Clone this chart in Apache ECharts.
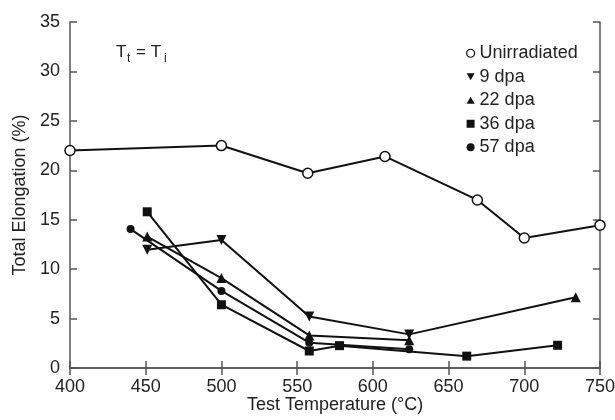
<!doctype html>
<html lang="en">
<head>
<meta charset="UTF-8">
<title>Total Elongation vs Test Temperature</title>
<style>
  html, body { margin: 0; padding: 0; background: #fff; }
  #main { width: 615px; height: 420px; }
</style>
</head>
<body>
<div id="main"></div>
<script src="https://cdn.jsdelivr.net/npm/echarts@6/dist/echarts.min.js"></script>
<script>
// data
var unirrTemp = [400, 500, 557, 608, 669, 700, 750];
var unirrElong = [22.0, 22.5, 19.7, 21.4, 17.0, 13.15, 14.45];

var dpa9Temp = [451, 500, 558, 624, 734];
var dpa9Elong = [11.95, 12.95, 5.2, 3.4, 7.15];

var dpa22Temp = [451, 500, 558, 624];
var dpa22Elong = [13.3, 9.1, 3.3, 2.8];

var dpa36Temp = [451, 500, 558, 578, 662, 722];
var dpa36Elong = [15.8, 6.4, 1.72, 2.26, 1.2, 2.3];

var dpa57Temp = [440, 500, 558, 624];
var dpa57Elong = [14.05, 7.8, 2.56, 1.9];

var seriesNames = ['Unirradiated', '9 dpa', '22 dpa', '36 dpa', '57 dpa'];
var xTicks = [400, 750, 50];
var yTicks = [0, 35, 5];

var downTri = 'path://M0,0 L10,0 L5,9 Z';
var upTri = 'path://M5,0 L10,9 L0,9 Z';

function pairs(t, v) {
    var out = [];
    for (var i = 0; i < t.length; i++) out.push([t[i], v[i]]);
    return out;
}

var myChart = echarts.init(document.getElementById('main'));

var axisColor = '#555';
var font = 'Liberation Sans, Arial, sans-serif';
var tickStyle = { color: '#222', fontSize: 18, fontFamily: font };
var nameStyle = { color: '#222', fontSize: 18, fontFamily: font };

// 9 dpa last point is drawn as an up triangle in the figure
var dpa9Data = pairs(dpa9Temp, dpa9Elong);
dpa9Data[dpa9Data.length - 1] = { value: dpa9Data[dpa9Data.length - 1], symbol: upTri };

function lineSeries(name, data, symbol, size, fill) {
    return {
        name: name,
        type: 'line',
        xAxisIndex: 0,
        yAxisIndex: 0,
        data: data,
        symbol: symbol,
        symbolSize: size,
        showAllSymbol: true,
        lineStyle: { color: '#111', width: 2 },
        itemStyle: { color: fill || '#111', borderColor: '#111', borderWidth: fill ? 1.5 : 0, opacity: 1 },
        emphasis: { disabled: true },
        z: 3
    };
}

var option = {
    animation: false,
    backgroundColor: '#fff',
    grid: { left: 70, right: 15, top: 22, bottom: 52, containLabel: false, outerBoundsMode: 'none' },
    legend: {
        orient: 'vertical',
        left: 461,
        top: 39,
        itemWidth: 8,
        itemHeight: 8,
        itemGap: 5,
        selectedMode: false,
        textStyle: { color: '#222', fontSize: 18, lineHeight: 18.5, fontFamily: font },
        data: [
            { name: seriesNames[0], icon: 'circle', itemStyle: { color: '#fff', borderColor: '#111', borderWidth: 1.2 } },
            { name: seriesNames[1], icon: downTri, itemStyle: { color: '#111' } },
            { name: seriesNames[2], icon: upTri, itemStyle: { color: '#111' } },
            { name: seriesNames[3], icon: 'rect', itemStyle: { color: '#111' } },
            { name: seriesNames[4], icon: 'circle', itemStyle: { color: '#111' } }
        ]
    },
    xAxis: [{
        type: 'value',
        min: xTicks[0], max: xTicks[1], interval: xTicks[2],
        name: 'Test Temperature (°C)',
        nameLocation: 'middle',
        nameGap: 28,
        nameMoveOverlap: false,
        nameTextStyle: nameStyle,
        axisLine: { show: true, lineStyle: { color: axisColor, width: 1.5 } },
        axisTick: { show: true, inside: true, length: 7, lineStyle: { color: axisColor, width: 1.5 } },
        axisLabel: Object.assign({ margin: 10 }, tickStyle),
        splitLine: { show: false }
    }, {
        type: 'value',
        position: 'top',
        min: xTicks[0], max: xTicks[1], interval: xTicks[2],
        axisLine: { show: true, lineStyle: { color: axisColor, width: 1.5 } },
        axisTick: { show: true, inside: true, length: 7, lineStyle: { color: axisColor, width: 1.5 } },
        axisLabel: { show: false },
        splitLine: { show: false }
    }],
    yAxis: [{
        type: 'value',
        min: yTicks[0], max: yTicks[1], interval: yTicks[2],
        name: 'Total Elongation (%)',
        nameLocation: 'middle',
        nameGap: 41,
        nameMoveOverlap: false,
        nameTextStyle: nameStyle,
        axisLine: { show: true, lineStyle: { color: axisColor, width: 1.5 } },
        axisTick: { show: true, inside: true, length: 7, lineStyle: { color: axisColor, width: 1.5 } },
        axisLabel: Object.assign({ margin: 10 }, tickStyle),
        splitLine: { show: false }
    }, {
        type: 'value',
        position: 'right',
        min: yTicks[0], max: yTicks[1], interval: yTicks[2],
        axisLine: { show: true, lineStyle: { color: axisColor, width: 1.5 } },
        axisTick: { show: true, inside: true, length: 7, lineStyle: { color: axisColor, width: 1.5 } },
        axisLabel: { show: false },
        splitLine: { show: false }
    }],
    graphic: [
        { type: 'text', left: 116, top: 44, style: { text: 'T', fontSize: 17, fill: '#222', fontFamily: font } },
        { type: 'text', left: 127, top: 53, style: { text: 't', fontSize: 12, fill: '#222', fontFamily: font } },
        { type: 'text', left: 136, top: 44, style: { text: '= T', fontSize: 17, fill: '#222', fontFamily: font } },
        { type: 'text', left: 164, top: 53, style: { text: 'i', fontSize: 12, fill: '#222', fontFamily: font } }
    ],
    series: [
        lineSeries(seriesNames[0], pairs(unirrTemp, unirrElong), 'circle', 10, '#fff'),
        lineSeries(seriesNames[1], dpa9Data, downTri, 10),
        lineSeries(seriesNames[2], pairs(dpa22Temp, dpa22Elong), upTri, 10),
        lineSeries(seriesNames[3], pairs(dpa36Temp, dpa36Elong), 'rect', 9),
        lineSeries(seriesNames[4], pairs(dpa57Temp, dpa57Elong), 'circle', 8)
    ]
};

myChart.setOption(option);
</script>
</body>
</html>
